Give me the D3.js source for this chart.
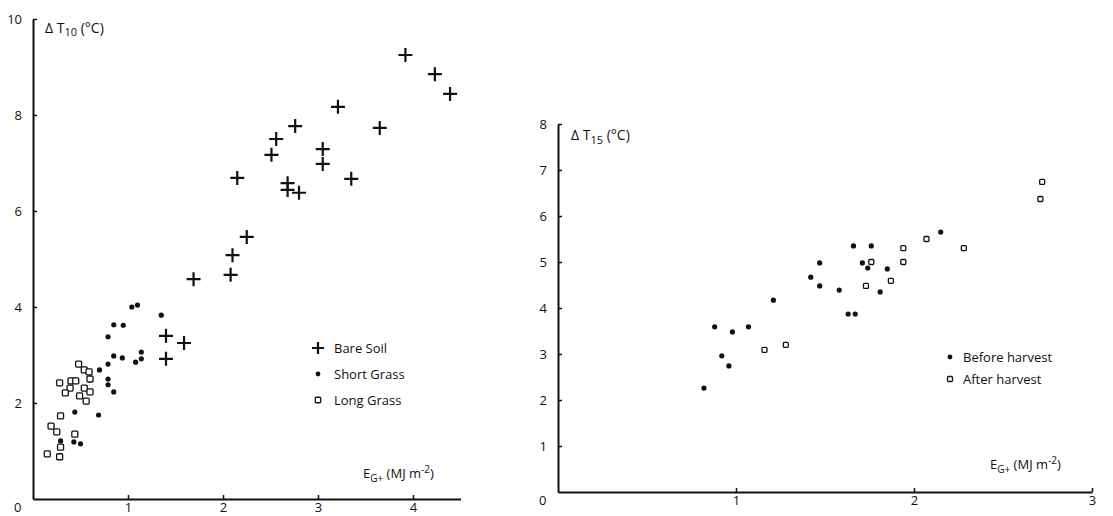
<!DOCTYPE html>
<html><head><meta charset="utf-8">
<script src="https://cdn.jsdelivr.net/npm/d3@7"></script>
<style>
body{margin:0;background:#fff;}
text{font-family:"Open Sans","DejaVu Sans",sans-serif;fill:#111;}
</style></head>
<body>
<svg id="c" width="1113" height="516"></svg>
<script>
// ---- Left panel data (ΔT10 vs EG+) ----
const bareSoilX = [3.92,4.23,4.39,3.21,2.76,2.56,2.51,3.05,3.05,3.65,2.15,2.68,2.68,2.80,3.35,2.25,2.10,2.08,1.69,1.40,1.59,1.40];
const bareSoilY = [9.25,8.85,8.44,8.17,7.77,7.50,7.17,7.29,6.98,7.73,6.69,6.58,6.44,6.38,6.67,5.46,5.08,4.67,4.58,3.40,3.25,2.92];
const shortGrassX = [1.04,1.10,1.35,0.85,0.95,0.79,0.85,0.94,0.79,0.70,1.14,1.14,1.08,0.79,0.79,0.85,0.44,0.69,0.29,0.43,0.50];
const shortGrassY = [4.00,4.04,3.83,3.63,3.62,3.38,2.98,2.94,2.81,2.69,3.06,2.92,2.85,2.50,2.38,2.23,1.81,1.75,1.21,1.19,1.15];
const longGrassX = [0.48,0.54,0.59,0.60,0.28,0.40,0.45,0.39,0.34,0.54,0.60,0.49,0.56,0.29,0.19,0.25,0.44,0.29,0.15,0.28];
const longGrassY = [2.81,2.69,2.65,2.50,2.42,2.46,2.46,2.31,2.21,2.31,2.23,2.15,2.04,1.73,1.52,1.40,1.35,1.08,0.94,0.88];
const leftXTicks = [1,2,3,4];
const leftYTicks = [2,4,6,8,10];
const leftLegend = ["Bare Soil","Short Grass","Long Grass"];

// ---- Right panel data (ΔT15 vs EG+) ----
const beforeX = [1.66,1.76,1.47,1.71,1.74,1.85,1.42,1.47,1.58,1.81,1.63,1.67,1.21,0.88,0.98,1.07,0.92,0.96,0.82,2.15];
const beforeY = [5.35,5.35,4.98,4.98,4.87,4.85,4.67,4.48,4.39,4.35,3.87,3.87,4.17,3.59,3.48,3.59,2.96,2.74,2.26,5.65];
const afterX = [1.76,1.94,1.94,1.73,1.87,1.16,1.28,2.07,2.28,2.72,2.71];
const afterY = [5.00,5.30,5.00,4.48,4.59,3.09,3.20,5.50,5.30,6.74,6.37];
const rightXTicks = [1,2,3];
const rightYTicks = [1,2,3,4,5,6,7,8];
const rightLegend = ["Before harvest","After harvest"];

const svg = d3.select("#c");

function panel(o){
  const g = svg.append("g");
  const x = d3.scaleLinear().domain(o.xd).range(o.xr);
  const y = d3.scaleLinear().domain(o.yd).range(o.yr);
  const xa = g.append("g").attr("transform",`translate(0,${o.yr[0]})`)
    .call(d3.axisBottom(x).tickValues(o.xt).tickSize(-4).tickSizeOuter(0).tickPadding(4).tickFormat(d3.format("d")));
  const ya = g.append("g").attr("transform",`translate(${o.xr[0]},0)`)
    .call(d3.axisLeft(y).tickValues(o.yt).tickSize(-4).tickSizeOuter(0).tickPadding(11).tickFormat(d3.format("d")));
  [xa,ya].forEach(a=>{
    a.select(".domain").attr("stroke","#111").attr("stroke-width",2);
    a.selectAll(".tick line").attr("stroke","#111").attr("stroke-width",1.5);
    a.selectAll("text").attr("font-size",13).attr("fill","#111").attr("font-family","'Open Sans',sans-serif");
  });
  g.append("text").attr("x",o.xr[0]-19).attr("y",o.yr[0]+13).attr("font-size",13).text("0");
  return {g,x,y};
}

function cross(g,cx,cy,s){
  g.append("path").attr("d",`M${cx-s},${cy}H${cx+s}M${cx},${cy-s}V${cy+s}`)
   .attr("stroke","#111").attr("stroke-width",2.2).attr("fill","none");
}
function dot(g,cx,cy,r){ g.append("circle").attr("cx",cx).attr("cy",cy).attr("r",r).attr("fill","#111"); }
function sq(g,cx,cy,s){ g.append("rect").attr("x",cx-s/2).attr("y",cy-s/2).attr("width",s).attr("height",s).attr("rx",1)
   .attr("fill","#fff").attr("stroke","#111").attr("stroke-width",1.3); }

// LEFT
const L = panel({xd:[0,4.5],xr:[33,460.5],yd:[0,10],yr:[499,19],xt:leftXTicks,yt:leftYTicks});
longGrassX.forEach((v,i)=>sq(L.g,L.x(v),L.y(longGrassY[i]),6));
shortGrassX.forEach((v,i)=>dot(L.g,L.x(v),L.y(shortGrassY[i]),2.6));
bareSoilX.forEach((v,i)=>cross(L.g,L.x(v),L.y(bareSoilY[i]),7));
const lt = L.g.append("text").attr("x",45).attr("y",33).attr("font-size",14);
lt.append("tspan").text("Δ T");
lt.append("tspan").attr("font-size",11).attr("dy",3).text("10");
lt.append("tspan").attr("dy",-3).text(" (°C)");
const lx = L.g.append("text").attr("x",363).attr("y",478).attr("font-size",13);
lx.append("tspan").text("E");
lx.append("tspan").attr("font-size",10).attr("dy",4).text("G+");
lx.append("tspan").attr("dy",-4).text(" (MJ m");
lx.append("tspan").attr("font-size",10).attr("dy",-5).text("-2");
lx.append("tspan").attr("dy",5).text(")");
const lly = [348,374,400];
cross(L.g,318,lly[0],6); dot(L.g,318,lly[1],2.4); sq(L.g,318,lly[2],5.5);
leftLegend.forEach((t,i)=>L.g.append("text").attr("x",334).attr("y",lly[i]+5).attr("font-size",13).text(t));

// RIGHT
const R = panel({xd:[0,3],xr:[558,1092],yd:[0,8],yr:[492,124],xt:rightXTicks,yt:rightYTicks});
beforeX.forEach((v,i)=>dot(R.g,R.x(v),R.y(beforeY[i]),2.6));
afterX.forEach((v,i)=>sq(R.g,R.x(v),R.y(afterY[i]),5));
const rt = R.g.append("text").attr("x",571).attr("y",140).attr("font-size",14);
rt.append("tspan").text("Δ T");
rt.append("tspan").attr("font-size",11).attr("dy",4).text("15");
rt.append("tspan").attr("dy",-4).text(" (°C)");
const rx = R.g.append("text").attr("x",990).attr("y",469).attr("font-size",13);
rx.append("tspan").text("E");
rx.append("tspan").attr("font-size",10).attr("dy",4).text("G+");
rx.append("tspan").attr("dy",-4).text(" (MJ m");
rx.append("tspan").attr("font-size",10).attr("dy",-5).text("-2");
rx.append("tspan").attr("dy",5).text(")");
const rly = [357,379];
dot(R.g,950,rly[0],2.4); sq(R.g,950,rly[1],5);
rightLegend.forEach((t,i)=>R.g.append("text").attr("x",963).attr("y",rly[i]+5).attr("font-size",13).text(t));
</script>
</body></html>
